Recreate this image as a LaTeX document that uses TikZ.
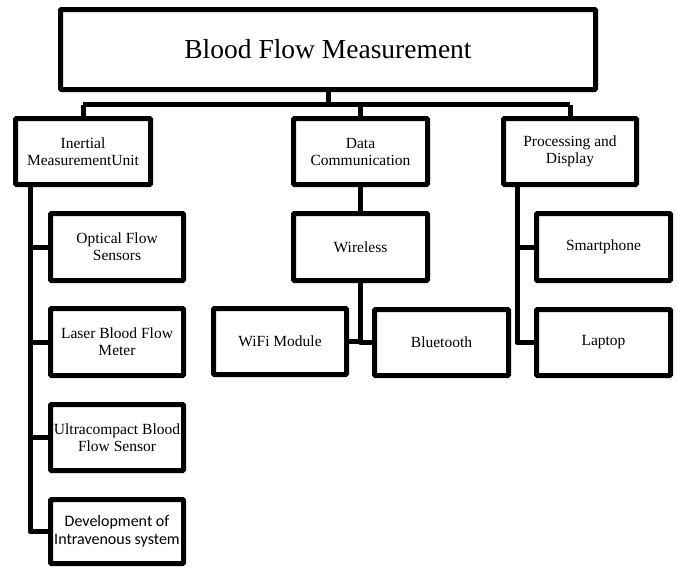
\documentclass[tikz,border=0pt]{standalone}
\usepackage{fontspec}
\setmainfont{Liberation Serif}
\newfontfamily\calib{Carlito}
\begin{document}
\begin{tikzpicture}[x=1pt,y=-1pt,
  box/.style={draw,line width=5pt,rounded corners=1pt,align=center,inner sep=0pt,
    font=\fontsize{15.5}{17}\selectfont},
  conn/.style={line width=5pt,line join=round}]
\useasboundingbox (0,0) rectangle (678,568);
\node[box,minimum width=535,minimum height=80,font=\fontsize{27.5}{32}\selectfont] (top) at (328,49.5) {Blood Flow Measurement};
\node[box,minimum width=135,minimum height=66] (imu) at (83,151.5) {Inertial\\MeasurementUnit};
\node[box,minimum width=134,minimum height=66] (dc) at (360.5,151.5) {Data\\Communication};
\node[box,minimum width=133,minimum height=66] (pd) at (570,151.5) {Processing and\\Display};
\node[box,minimum width=133,minimum height=67] (ofs) at (117,247) {Optical Flow\\Sensors};
\node[box,minimum width=133,minimum height=67] (lbf) at (117,342) {Laser Blood Flow\\Meter};
\node[box,minimum width=133,minimum height=66] (ucb) at (117,437.5) {Ultracompact Blood\\Flow Sensor};
\node[box,minimum width=133,minimum height=64,font=\calib\fontsize{16}{18}\selectfont] (dev) at (117,531.5) {Development of\\Intravenous system};
\node[box,minimum width=134,minimum height=67] (wl) at (360.5,247) {Wireless};
\node[box,minimum width=133,minimum height=66] (wifi) at (280,341.5) {WiFi Module};
\node[box,minimum width=134,minimum height=66] (bt) at (441.5,342.5) {Bluetooth};
\node[box,minimum width=134,minimum height=67] (sp) at (603.5,247) {Smartphone};
\node[box,minimum width=134,minimum height=66] (lap) at (603.5,342.5) {Laptop};
\coordinate (bus) at (0,104.5);
\draw[conn] (top.south) -- (top.south |- bus);
\draw[conn] (imu.north |- bus) -- (pd.north |- bus);
\draw[conn] (imu.north) -- (imu.north |- bus);
\draw[conn] (dc.north) -- (dc.north |- bus);
\draw[conn] (pd.north) -- (pd.north |- bus);
\coordinate (lx) at (30,0);
\draw[conn] (imu.south -| lx) -- (lx |- dev.west) -- (dev.west);
\draw[conn] (lx |- ofs.west) -- (ofs.west);
\draw[conn] (lx |- lbf.west) -- (lbf.west);
\draw[conn] (lx |- ucb.west) -- (ucb.west);
\draw[conn] (dc.south) -- (wl.north);
\draw[conn] (wl.south) -- (wl.south |- bt.west) -- (bt.west);
\draw[conn] (wifi.east) -- (wl.south |- wifi.east);
\coordinate (px) at (517,0);
\draw[conn] (pd.south -| px) -- (px |- lap.west) -- (lap.west);
\draw[conn] (px |- sp.west) -- (sp.west);
\end{tikzpicture}
\end{document}
